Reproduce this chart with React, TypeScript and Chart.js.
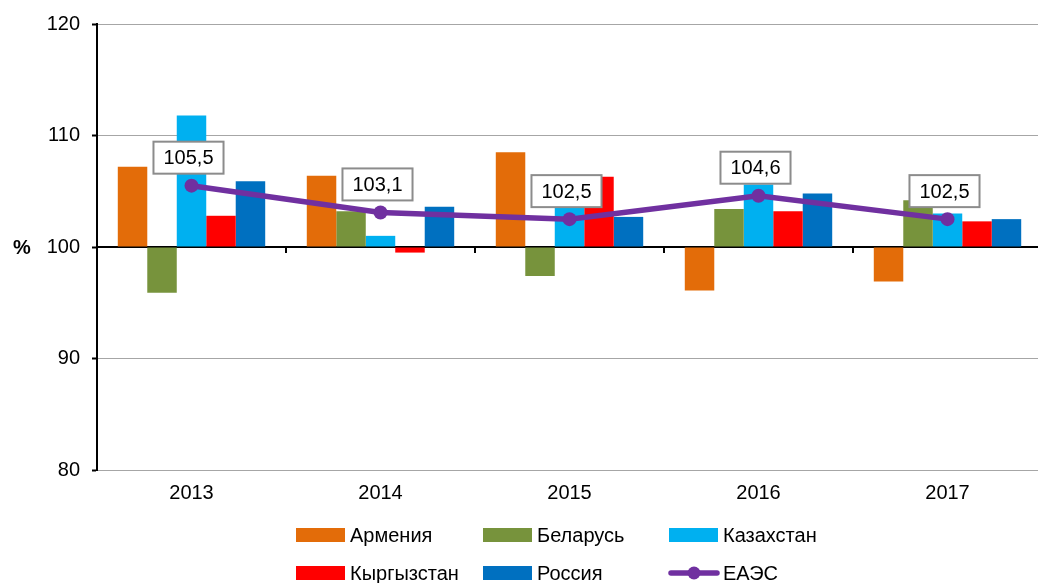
import { useEffect, useRef } from 'react';
import { Chart, registerables } from 'chart.js';
Chart.register(...registerables);

const years = ['2013', '2014', '2015', '2016', '2017'];
const armenia = [107.2, 106.4, 108.5, 96.1, 96.9];
const belarus = [95.9, 103.2, 97.4, 103.4, 104.2];
const kazakhstan = [111.8, 101.0, 103.8, 105.6, 103.0];
const kyrgyzstan = [102.8, 99.5, 106.3, 103.2, 102.3];
const russia = [105.9, 103.6, 102.7, 104.8, 102.5];
const eaeu = [105.5, 103.1, 102.5, 104.6, 102.5];
const yMin = 80;
const yMax = 120;
const yStep = 10;
const baseValue = 100;
const yTitle = '%';

const COLORS = {
  arm: '#E36C09',
  bel: '#77933C',
  kaz: '#00B0F0',
  kyr: '#FF0000',
  rus: '#0070C0',
  eaeu: '#7030A0',
};
const FONT = '"Liberation Sans", Arial, sans-serif';

const legendItems = [
  { label: 'Армения', color: COLORS.arm, line: false },
  { label: 'Беларусь', color: COLORS.bel, line: false },
  { label: 'Казахстан', color: COLORS.kaz, line: false },
  { label: 'Кыргызстан', color: COLORS.kyr, line: false },
  { label: 'Россия', color: COLORS.rus, line: false },
  { label: 'ЕАЭС', color: COLORS.eaeu, line: true },
];

const decorPlugin = {
  id: 'decor',
  beforeDatasetsDraw(chart: any) {
    const { ctx, chartArea, scales } = chart;
    const y = scales.y.getPixelForValue(baseValue);
    ctx.save();
    ctx.strokeStyle = '#000';
    ctx.lineWidth = 2;
    ctx.beginPath();
    ctx.moveTo(chartArea.left, y);
    ctx.lineTo(chartArea.right, y);
    ctx.stroke();
    const n = years.length;
    const w = (chartArea.right - chartArea.left) / n;
    for (let i = 1; i <= n; i++) {
      const x = Math.round(chartArea.left + w * i);
      ctx.beginPath();
      ctx.moveTo(x, y);
      ctx.lineTo(x, y + 6);
      ctx.stroke();
    }
    ctx.restore();
  },
  afterDraw(chart: any) {
    const { ctx, scales } = chart;
    ctx.save();
    ctx.font = `bold 20px ${FONT}`;
    ctx.fillStyle = '#000';
    ctx.textAlign = 'center';
    ctx.textBaseline = 'middle';
    ctx.fillText(yTitle, 22, scales.y.getPixelForValue(baseValue) + 1);

    const meta = chart.getDatasetMeta(0);
    ctx.font = `20px ${FONT}`;
    meta.data.forEach((pt: any, i: number) => {
      const txt = eaeu[i].toFixed(1).replace('.', ',');
      const tw = ctx.measureText(txt).width;
      const bw = tw + 20;
      const bh = 32;
      const bx = pt.x - bw / 2 - 3;
      const by = pt.y - 12 - bh;
      ctx.fillStyle = '#fff';
      ctx.fillRect(bx, by, bw, bh);
      ctx.strokeStyle = '#8C8C8C';
      ctx.lineWidth = 2;
      ctx.strokeRect(bx, by, bw, bh);
      ctx.fillStyle = '#000';
      ctx.textAlign = 'center';
      ctx.textBaseline = 'middle';
      ctx.fillText(txt, bx + bw / 2, by + bh / 2 + 1);
    });

    const cols = [296, 483, 669];
    const rows = [535, 573];
    legendItems.forEach((it, i) => {
      const x = cols[i % 3];
      const y = rows[Math.floor(i / 3)];
      if (it.line) {
        ctx.strokeStyle = it.color;
        ctx.lineWidth = 5.5;
        ctx.lineCap = 'round';
        ctx.beginPath();
        ctx.moveTo(x + 2, y);
        ctx.lineTo(x + 48, y);
        ctx.stroke();
        ctx.fillStyle = it.color;
        ctx.beginPath();
        ctx.arc(x + 25, y, 6.5, 0, Math.PI * 2);
        ctx.fill();
      } else {
        ctx.fillStyle = it.color;
        ctx.fillRect(x, y - 7, 49, 14);
      }
      ctx.fillStyle = '#000';
      ctx.font = `20px ${FONT}`;
      ctx.textAlign = 'left';
      ctx.textBaseline = 'middle';
      ctx.fillText(it.label, x + 54, y + 1);
    });
    ctx.restore();
  },
};

export default function App() {
  const ref = useRef<HTMLCanvasElement | null>(null);
  useEffect(() => {
    document.body.style.margin = '0';
    document.body.style.overflow = 'hidden';
    document.documentElement.style.overflow = 'hidden';
    const canvas = ref.current;
    if (!canvas) return;
    const barDs = (label: string, data: number[], color: string) => ({
      type: 'bar' as const,
      label,
      data,
      backgroundColor: color,
      borderWidth: 0,
      base: baseValue,
      order: 2,
      categoryPercentage: 0.78,
      barPercentage: 1,
    });
    const chart = new Chart(canvas, {
      type: 'bar',
      data: {
        labels: years,
        datasets: [
          {
            type: 'line' as const,
            label: 'ЕАЭС',
            data: eaeu,
            borderColor: COLORS.eaeu,
            backgroundColor: COLORS.eaeu,
            borderWidth: 5.5,
            pointRadius: 7,
            pointBackgroundColor: COLORS.eaeu,
            pointBorderWidth: 0,
            tension: 0,
            order: 0,
          } as any,
          barDs('Армения', armenia, COLORS.arm),
          barDs('Беларусь', belarus, COLORS.bel),
          barDs('Казахстан', kazakhstan, COLORS.kaz),
          barDs('Кыргызстан', kyrgyzstan, COLORS.kyr),
          barDs('Россия', russia, COLORS.rus),
        ],
      },
      options: {
        animation: false,
        responsive: false,
        devicePixelRatio: 1,
        layout: { padding: { left: 0, right: 0, top: 22, bottom: 0 } },
        plugins: {
          legend: { display: false },
          tooltip: { enabled: false },
        },
        scales: {
          x: {
            type: 'category',
            offset: true,
            grid: { display: false, drawTicks: false },
            border: { display: false },
            ticks: {
              color: '#000',
              font: { family: FONT, size: 20 },
              padding: 11,
            },
            afterFit(scale: any) {
              scale.height = 113;
              scale.paddingLeft = 0;
              scale.paddingRight = 0;
            },
          },
          y: {
            min: yMin,
            max: yMax,
            ticks: {
              stepSize: yStep,
              color: '#000',
              font: { family: FONT, size: 20 },
              padding: 12,
            },
            grid: {
              color: (c: any) => (c.tick && c.tick.value === baseValue ? 'rgba(0,0,0,0)' : '#A6A6A6'),
              lineWidth: 1,
              tickColor: '#000',
              tickLength: 5,
              tickWidth: 2,
            },
            border: { display: true, color: '#000', width: 2 },
            afterFit(scale: any) {
              scale.width = 97;
            },
          },
        },
      },
      plugins: [decorPlugin],
    });
    return () => chart.destroy();
  }, []);
  return <canvas ref={ref} width={1049} height={583} style={{ display: 'block' }} />;
}
